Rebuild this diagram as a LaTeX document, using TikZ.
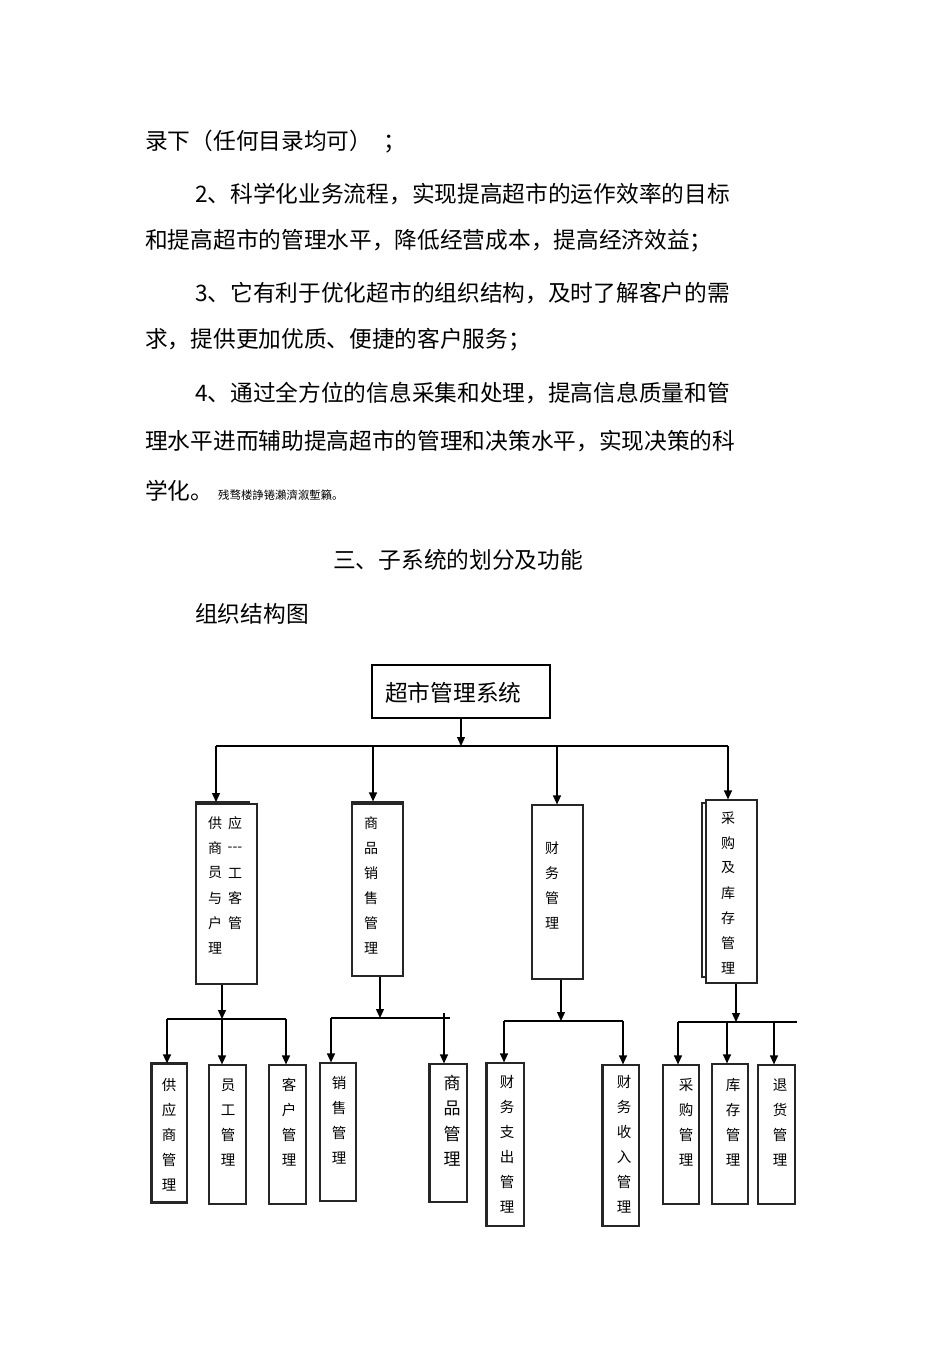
\documentclass[tikz,border=0pt]{standalone}
\usepackage{fontspec}
\setmainfont{Noto Sans CJK SC}
\usetikzlibrary{arrows.meta}
\newcommand\vchars[6]{%
  \foreach \c [count=\i from 0] in {#6}{\node[#5] (#1-\i) at (#2,{#3+#4*\i}) {\c};}}
\begin{document}
\begin{tikzpicture}[x=1pt,y=-1pt,
  body/.style={anchor=west,inner sep=0pt,font=\fontsize{22.7}{27}\selectfont},
  box/.style={draw=black!85,line width=1.2pt,inner sep=0pt},
  chA/.style={inner sep=0pt,font=\fontsize{14}{16}\selectfont},
  chB/.style={inner sep=0pt,font=\fontsize{14.5}{16}\selectfont},
  chC/.style={inner sep=0pt,font=\fontsize{17}{19}\selectfont},
  arr/.style={line width=1.3pt,-{Triangle[length=9pt,width=8pt]}},
  ln/.style={line width=1.3pt},
  thick edge/.style={line width=2.6pt,black!85},
]
\fill[white] (0,0) rectangle (950,1345);
\useasboundingbox (0,0) rectangle (950,1345);

% ---------- body text ----------
\node[body] (p1) at (145,142) {录下（任何目录均可）\hspace{11pt}；};
\node[body] (p2) at (195,194) {2、科学化业务流程，实现提高超市的运作效率的目标};
\node[body] (p3) at (145,241) {和提高超市的管理水平，降低经营成本，提高经济效益；};
\node[body] (p4) at (195,293) {3、它有利于优化超市的组织结构，及时了解客户的需};
\node[body] (p5) at (145,340) {求，提供更加优质、便捷的客户服务；};
\node[body] (p6) at (195,393) {4、通过全方位的信息采集和处理，提高信息质量和管};
\node[body] (p7) at (145,441) {理水平进而辅助提高超市的管理和决策水平，实现决策的科};
\node[body] (p8) at (145,491) {学化。};
\node[anchor=base west,inner sep=0pt,font=\fontsize{11.4}{13}\selectfont] (p8s) at (218,499) {残骛楼諍锩瀨濟溆塹籟。};
\node[body] (sec) at (333,560) {三、子系统的划分及功能};
\node[body] (cap) at (195,614) {组织结构图};

% ---------- root ----------
\node[draw=black,line width=1.4pt,inner sep=0pt,minimum width=178pt,minimum height=53pt] (root) at (461,691.5) {};
\node[body] (roott) at (385,693) {超市管理系统};

% ---------- level 1 boxes ----------
\node[box,minimum width=61pt,minimum height=180pt] (B1) at (226.5,894) {};
\draw[box] (196,804) -- (196,802) -- (249,802) -- (249,804);
\node[box,minimum width=51pt,minimum height=174pt] (B2) at (377.5,889) {};
\draw[box] (B2.north west) ++(0,2.5) -- ++(51,0);
\node[box,minimum width=51pt,minimum height=174pt] (B3) at (557.5,892) {};
\node[box,minimum width=51pt,minimum height=183pt] (B4) at (731.5,891.5) {};
\draw[box] (706,803) -- (702,803) -- (702,977) -- (706,977);

\node[chA] (B1-dash) at (235,849) {-{}-{}-};
\vchars{B1l}{215}{823}{25}{chA}{供,商,员,与,户,理}
\node[chA] (B1r-0) at (235,823) {应};
\vchars{B1r}{235}{873}{25}{chA}{工,客,管}
\vchars{B2t}{371}{823}{25}{chA}{商,品,销,售,管,理}
\vchars{B3t}{552}{848}{25}{chA}{财,务,管,理}
\vchars{B4t}{728}{818}{25}{chA}{采,购,及,库,存,管,理}

% ---------- level 1 connectors ----------
\coordinate (hm) at (461,746);
\coordinate (h1) at (216,746);
\coordinate (h2) at (373,746);
\coordinate (h3) at (557,746);
\coordinate (h4) at (728,746);
\draw[ln] (h1) -- (h4);
\draw[arr] (root.south) -- (hm);
\draw[arr] (h1) -- (h1 |- 0,802);
\draw[arr] (h2) -- (h2 |- B2.north);
\draw[arr] (h3) -- (h3 |- B3.north);
\draw[arr] (h4) -- (h4 |- B4.north);

% ---------- level 2 boxes ----------
\node[box,minimum width=35pt,minimum height=138pt] (C1) at (169.5,1133) {};
\draw[thick edge] (C1.south east) -- (C1.south west) -- (C1.north west) -- (C1.north east);
\node[box,minimum width=37pt,minimum height=139pt] (C2) at (227.5,1134.5) {};
\node[box,minimum width=37pt,minimum height=139pt] (C3) at (287.5,1134.5) {};
\node[box,minimum width=36pt,minimum height=138pt] (D1) at (338,1132) {};
\node[box,minimum width=37pt,minimum height=138pt] (D2) at (448.5,1133) {};
\draw[thick edge] (D2.south west) -- (D2.north west);
\node[box,minimum width=37pt,minimum height=163pt] (E1) at (505.5,1144.5) {};
\draw[thick edge] (E1.south west) -- (E1.north west);
\node[box,minimum width=36pt,minimum height=161pt] (E2) at (621,1145.5) {};
\draw[thick edge] (E2.south west) -- (E2.north west);
\node[box,minimum width=36pt,minimum height=139pt] (F1) at (681,1134.5) {};
\node[box,minimum width=36pt,minimum height=140pt] (F2) at (730,1134) {};
\node[box,minimum width=37pt,minimum height=139pt] (F3) at (776.5,1134.5) {};

\vchars{C1t}{169}{1085}{25}{chB}{供,应,商,管,理}
\vchars{C2t}{228}{1085}{25}{chB}{员,工,管,理}
\vchars{C3t}{289}{1085}{25}{chB}{客,户,管,理}
\vchars{D1t}{339}{1083}{25}{chB}{销,售,管,理}
\vchars{D2t}{452}{1083}{25.5}{chC}{商,品,管,理}
\vchars{E1t}{507}{1082}{25}{chB}{财,务,支,出,管,理}
\vchars{E2t}{624}{1082}{25}{chB}{财,务,收,入,管,理}
\vchars{F1t}{686}{1085}{25}{chB}{采,购,管,理}
\vchars{F2t}{733}{1085}{25}{chB}{库,存,管,理}
\vchars{F3t}{780}{1085}{25}{chB}{退,货,管,理}

% ---------- level 2 connectors ----------
% group A
\coordinate (ga) at (222,1019);
\coordinate (ga1) at (167,1019);
\coordinate (ga3) at (286,1019);
\draw[ln] (ga1) -- (ga3);
\draw[arr] (B1.south -| ga) -- (ga);
\draw[arr] (ga1) -- (ga1 |- C1.north);
\draw[arr] (ga) -- (ga |- C2.north);
\draw[arr] (ga3) -- (ga3 |- C3.north);
% group B
\coordinate (gb) at (380,1018);
\coordinate (gb1) at (331,1018);
\coordinate (gb2) at (450,1018);
\coordinate (gb3) at (444,1013);
\draw[ln] (gb1) -- (gb2);
\draw[arr] (B2.south -| gb) -- (gb);
\draw[arr] (gb1) -- (gb1 |- D1.north);
\draw[arr] (gb3) -- (gb3 |- D2.north);
% group C
\coordinate (gc) at (561,1021);
\coordinate (gc1) at (504,1021);
\coordinate (gc2) at (623,1021);
\draw[ln] (gc1) -- (gc2);
\draw[arr] (B3.south -| gc) -- (gc);
\draw[arr] (gc1) -- (gc1 |- E1.north);
\draw[arr] (gc2) -- (gc2 |- E2.north);
% group D
\coordinate (gd) at (736,1022);
\coordinate (gd1) at (678,1022);
\coordinate (gd2) at (727,1022);
\coordinate (gd3) at (774,1022);
\coordinate (gd4) at (797,1022);
\draw[ln] (gd1) -- (gd4);
\draw[arr] (B4.south -| gd) -- (gd);
\draw[arr] (gd1) -- (gd1 |- F1.north);
\draw[arr] (gd2) -- (gd2 |- F2.north);
\draw[arr] (gd3) -- (gd3 |- F3.north);
\end{tikzpicture}
\end{document}
